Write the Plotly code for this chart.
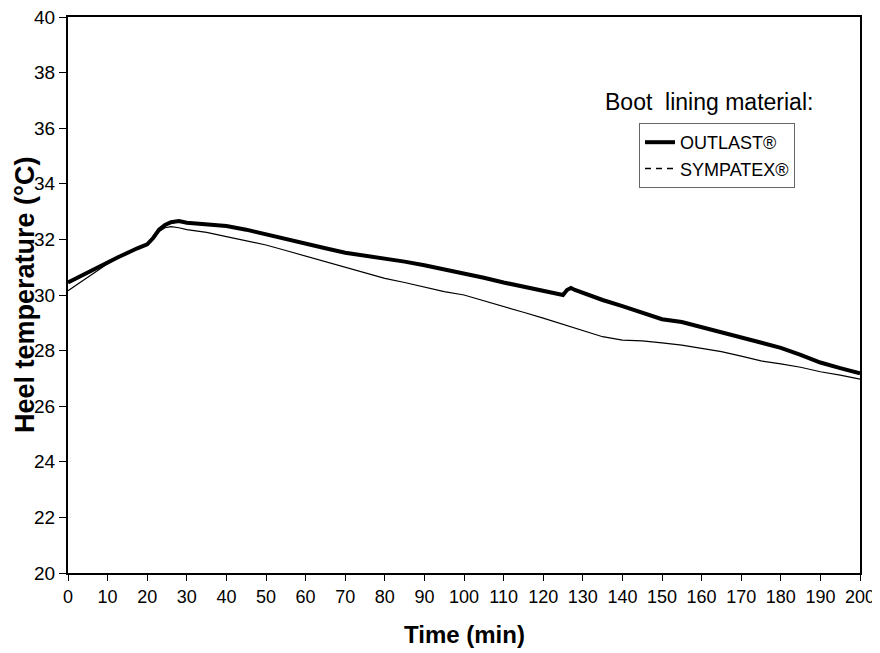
import plotly.graph_objects as go

# Time (min)
outlast_t = [0, 2.5, 5, 7.5, 10, 12.5, 15, 17.5, 20, 21.5, 23, 24.5, 26, 28, 30, 35, 40, 45, 50, 55, 60, 65, 70,
             75, 80, 85, 90, 95, 100, 105, 110, 115, 120, 124, 125, 126, 127, 128, 130, 135, 140, 145, 150,
             155, 160, 165, 170, 175, 180, 185, 190, 195, 200]
outlast_v = [30.45, 30.62, 30.8, 30.98, 31.17, 31.35, 31.52, 31.68, 31.82, 32.05, 32.35, 32.52, 32.62, 32.66, 32.6,
             32.55, 32.48, 32.35, 32.18, 32.02, 31.82, 31.68, 31.52, 31.42, 31.3, 31.2, 31.07, 30.92, 30.8,
             30.62, 30.45, 30.3, 30.12, 30.0, 30.0, 30.18, 30.25, 30.18, 30.07, 29.82, 29.6, 29.35, 29.13,
             29.03, 28.85, 28.67, 28.48, 28.28, 28.1, 27.85, 27.57, 27.37, 27.18]

sympatex_t = [0, 2.5, 5, 7.5, 10, 12.5, 15, 17.5, 20, 21.5, 23, 24.5, 26, 28, 30, 35, 40, 45, 50, 55, 60, 65,
              70, 75, 80, 85, 90, 95, 100, 105, 110, 115, 120, 125, 130, 135, 140, 145, 150, 155, 160, 165,
              170, 175, 180, 185, 190, 195, 200]
sympatex_v = [30.15, 30.4, 30.63, 30.88, 31.12, 31.32, 31.5, 31.66, 31.8, 32.0, 32.28, 32.42, 32.46, 32.42, 32.35,
              32.25, 32.1, 31.95, 31.8, 31.6, 31.4, 31.22, 31.02, 30.8, 30.6, 30.45, 30.28, 30.12, 30.0,
              29.8, 29.58, 29.38, 29.17, 28.95, 28.74, 28.5, 28.38, 28.35, 28.28, 28.2, 28.08, 27.96,
              27.8, 27.63, 27.52, 27.4, 27.24, 27.12, 26.97]

x_ticks = list(range(0, 201, 10))
y_ticks = list(range(20, 41, 2))

FONT = "Arial, Liberation Sans, sans-serif"

fig = go.Figure()
fig.add_trace(go.Scatter(x=outlast_t, y=outlast_v, mode="lines", name="OUTLAST®",
                         line=dict(color="black", width=4)))
fig.add_trace(go.Scatter(x=sympatex_t, y=sympatex_v, mode="lines", name="SYMPATEX®",
                         line=dict(color="black", width=1.2), showlegend=False))
fig.add_trace(go.Scatter(x=[None], y=[None], mode="lines", name="SYMPATEX®",
                         line=dict(color="black", width=1.5, dash="6px,5px")))

fig.update_layout(
    width=872, height=645,
    margin=dict(l=60, r=20, t=9, b=80, autoexpand=False),
    paper_bgcolor="white", plot_bgcolor="white",
    font=dict(family=FONT, color="black"),
    showlegend=True,
    legend=dict(x=(639 - 68) / 792, y=(573 - 123) / 556, xanchor="left", yanchor="top",
                bordercolor="#666666", borderwidth=1, bgcolor="white",
                font=dict(size=18, family=FONT), itemwidth=30, tracegroupgap=0),
    xaxis=dict(range=[0, 200], tickmode="array", tickvals=x_ticks, ticktext=[str(v) for v in x_ticks],
               showline=True, linecolor="black", linewidth=2, mirror=True, automargin=False,
               ticks="outside", ticklen=6, tickcolor="black", tickwidth=1, ticklabeloverflow="allow",
               showgrid=False, zeroline=False, tickfont=dict(size=18, family=FONT)),
    yaxis=dict(range=[20, 40], tickmode="array", tickvals=y_ticks, ticktext=[str(v) for v in y_ticks],
               showline=True, linecolor="black", linewidth=2, mirror=True, automargin=False,
               ticks="outside", ticklen=7, tickcolor="black", tickwidth=1, ticklabeloverflow="allow",
               showgrid=False, zeroline=False, tickfont=dict(size=19, family=FONT)),
    annotations=[
        dict(text="<b>Time (min)</b>", x=0.5, y=(573 - 634) / 556, xref="paper", yref="paper",
             xanchor="center", yanchor="middle", showarrow=False, font=dict(size=24, family=FONT)),
        dict(text="<b>Heel temperature (°C)</b>", x=(25 - 68) / 792, y=0.5, xref="paper", yref="paper",
             xanchor="center", yanchor="middle", textangle=-90, showarrow=False,
             font=dict(size=27, family=FONT)),
        dict(text="Boot  lining material:", x=(709 - 68) / 792, y=(573 - 102) / 556, xref="paper",
             yref="paper", xanchor="center", yanchor="middle", showarrow=False,
             font=dict(size=23, family=FONT)),
    ],
)

fig.write_html("out.html")
